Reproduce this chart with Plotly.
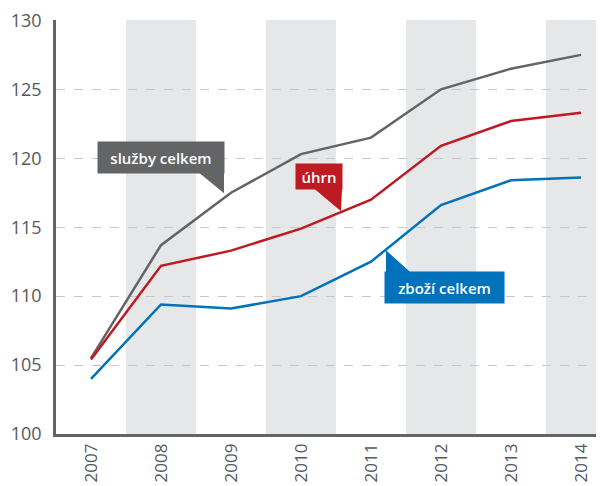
import plotly.graph_objects as go

years = ["2007", "2008", "2009", "2010", "2011", "2012", "2013", "2014"]
sluzby = [105.5, 113.7, 117.5, 120.3, 121.5, 125.0, 126.5, 127.5]
uhrn = [105.4, 112.2, 113.3, 114.9, 117.0, 120.9, 122.7, 123.3]
zbozi = [104.0, 109.4, 109.1, 110.0, 112.5, 116.6, 118.4, 118.6]

c_gray = "#636466"
c_red = "#be1a22"
c_blue = "#0071bb"

fig = go.Figure()
for vals, col in [(sluzby, c_gray), (uhrn, c_red), (zbozi, c_blue)]:
    fig.add_trace(go.Scatter(
        x=list(range(len(years))), y=vals, mode="lines",
        line=dict(color=col, width=2.5), showlegend=False,
    ))

shapes = []
# alternating background bands
for i in range(1, len(years), 2):
    shapes.append(dict(type="rect", xref="x", yref="paper", x0=i - 0.5, x1=i + 0.5,
                       y0=0, y1=1, fillcolor="#e6e7e8", line=dict(width=0), layer="below"))

# callout pointers
def tri(pts, col):
    p = "M " + " L ".join(f"{x},{y}" for x, y in pts) + " Z"
    return dict(type="path", xref="x", yref="y", path=p, fillcolor=col,
                line=dict(width=0), layer="above")

shapes.append(tri([(1.543, 118.95), (1.9, 118.95), (1.9, 117.46)], c_gray))
shapes.append(tri([(3.186, 117.8), (3.586, 117.8), (3.571, 116.16)], c_red))
shapes.append(tri([(4.214, 113.33), (4.214, 111.7), (4.571, 111.7)], c_blue))

lab_font = dict(family="Open Sans", size=15, color="white", weight=600)
annotations = [
    dict(x=1.0, y=120.04, xref="x", yref="y", text="služby celkem", showarrow=False,
         bgcolor=c_gray, font=lab_font, width=120, height=25, borderpad=3),
    dict(x=3.257, y=118.66, xref="x", yref="y", text="úhrn", showarrow=False,
         bgcolor=c_red, font=lab_font, width=40, height=19, borderpad=3),
    dict(x=5.05, y=110.62, xref="x", yref="y", text="zboží celkem", showarrow=False,
         bgcolor=c_blue, font=lab_font, width=113, height=25, borderpad=3),
]

fig.update_layout(
    width=604, height=486,
    margin=dict(l=48, r=0, t=12, b=60),
    plot_bgcolor="white", paper_bgcolor="white",
    font=dict(family="Open Sans", color="#58595b"),
    shapes=shapes, annotations=annotations,
    xaxis=dict(
        range=[-0.5, 7.443], tickmode="array", tickvals=list(range(len(years))),
        ticktext=years, tickangle=-90, tickfont=dict(size=17, color="#58595b"),
        showgrid=False, showline=True, linecolor=c_gray, linewidth=2.5,
        ticks="", zeroline=False, automargin=False,
    ),
    yaxis=dict(
        range=[100, 130.03], tickvals=[100, 105, 110, 115, 120, 125, 130],
        tickfont=dict(size=18, color="#58595b"),
        showgrid=True, gridcolor="#c8c8c8", griddash="dash", gridwidth=1,
        showline=True, linecolor=c_gray, linewidth=2.5, ticks="", zeroline=False,
        ticklabelstandoff=8, automargin=False, ticklabeloverflow="allow",
    ),
)

fig.write_html("out.html")
